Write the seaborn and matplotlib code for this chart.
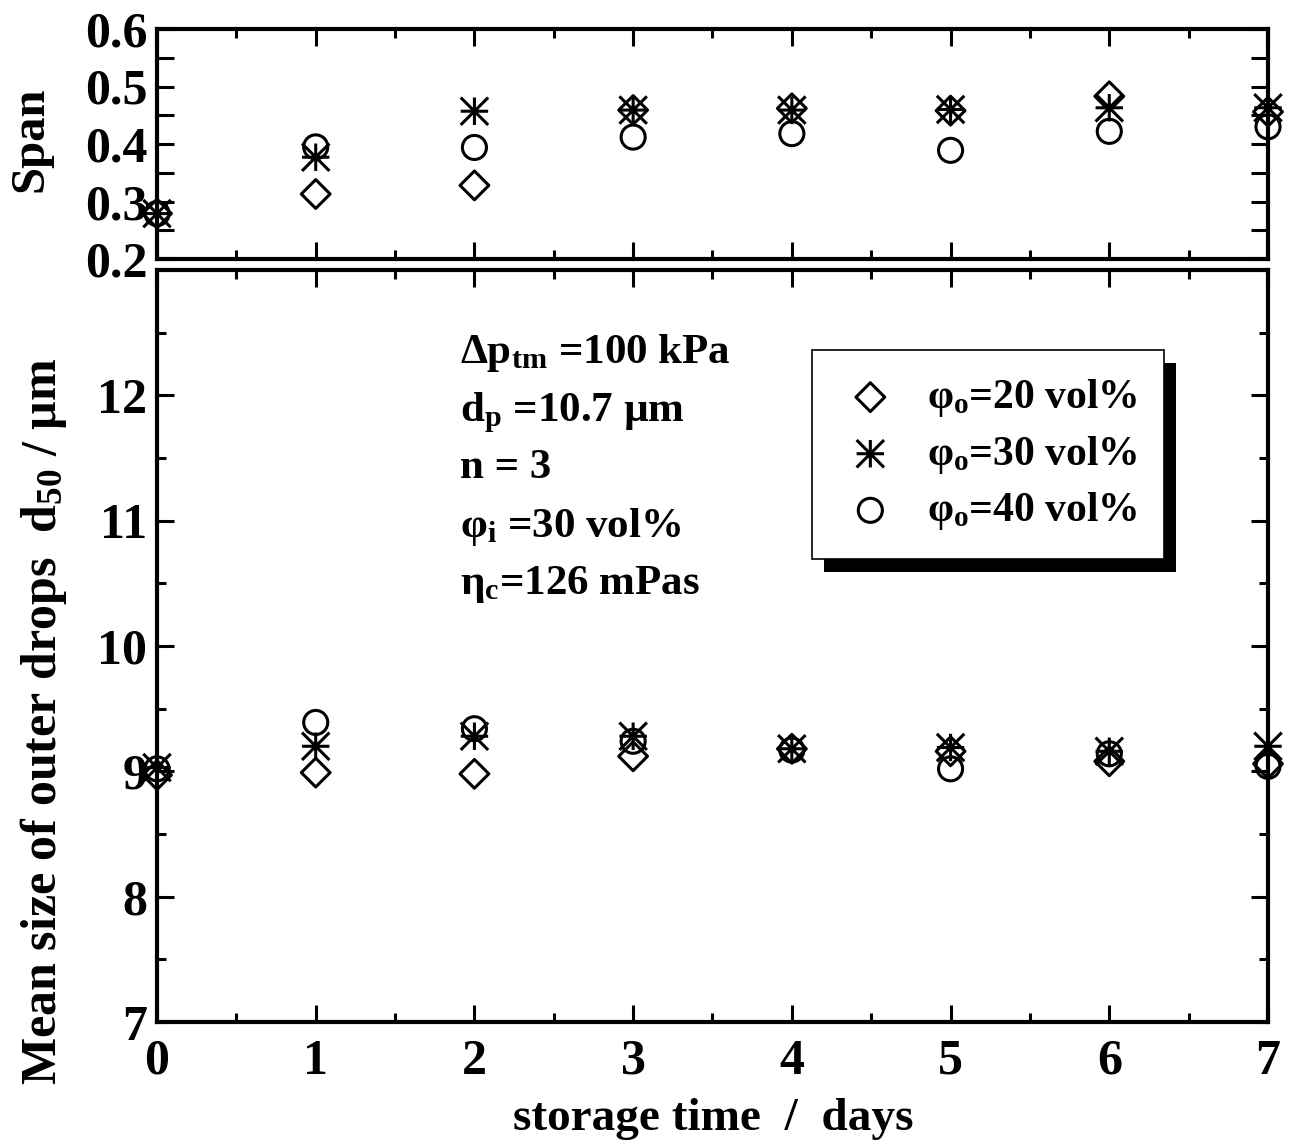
import numpy as np
import pandas as pd
import matplotlib
matplotlib.use("Agg")
import matplotlib.pyplot as plt
import seaborn as sns
from matplotlib.path import Path
from matplotlib import patheffects as pe
from matplotlib.ticker import MultipleLocator, FixedLocator

# ---------------- data ----------------
days = [0, 1, 2, 3, 4, 5, 6, 7]

span_20 = [0.279, 0.313, 0.328, 0.459, 0.462, 0.458, 0.483, 0.456]
span_30 = [0.279, 0.377, 0.457, 0.459, 0.459, 0.460, 0.463, 0.463]
span_40 = [0.279, 0.395, 0.394, 0.412, 0.418, 0.389, 0.422, 0.430]

d50_20 = [8.97, 8.99, 8.98, 9.12, 9.18, 9.16, 9.08, 9.06]
d50_30 = [9.03, 9.20, 9.28, 9.28, 9.18, 9.19, 9.16, 9.20]
d50_40 = [9.02, 9.39, 9.34, 9.24, 9.17, 9.02, 9.14, 9.04]

series_labels = [r"φ$_{\mathrm{o}}$=20 vol%", r"φ$_{\mathrm{o}}$=30 vol%", r"φ$_{\mathrm{o}}$=40 vol%"]
span_ticks = [0.2, 0.3, 0.4, 0.5, 0.6]
span_ticklabels = ["0.2", "0.3", "0.4", "0.5", "0.6"]
d50_ticks = [7, 8, 9, 10, 11, 12]
d50_ticklabels = ["7", "8", "9", "10", "11", "12"]
day_ticks = [0, 1, 2, 3, 4, 5, 6, 7]
day_ticklabels = ["0", "1", "2", "3", "4", "5", "6", "7"]

annotation_lines = [
    r"Δp$_{\mathrm{tm}}$ =100 kPa",
    r"d$_{\mathrm{p}}$ =10.7 µm",
    r"n = 3",
    r"φ$_{\mathrm{i}}$ =30 vol%",
    r"η$_{\mathrm{c}}$=126 mPas",
]

# ---------------- style ----------------
sns.set_style("ticks")
plt.rcParams["font.family"] = ["Liberation Serif", "DejaVu Serif"]
plt.rcParams["font.weight"] = "bold"
plt.rcParams["axes.labelweight"] = "bold"
plt.rcParams["text.color"] = "black"
plt.rcParams["axes.labelcolor"] = "black"
plt.rcParams["xtick.color"] = "black"
plt.rcParams["ytick.color"] = "black"
plt.rcParams["axes.edgecolor"] = "black"
plt.rcParams["mathtext.fontset"] = "custom"
plt.rcParams["mathtext.rm"] = "Liberation Serif:bold"
plt.rcParams["mathtext.it"] = "Liberation Serif:bold"
plt.rcParams["mathtext.bf"] = "Liberation Serif:bold"
plt.rcParams["mathtext.default"] = "rm"

star_path = Path(
    [(-1, 0), (1, 0), (0, -1), (0, 1), (-1, -1), (1, 1), (-1, 1), (1, -1)],
    [Path.MOVETO, Path.LINETO] * 4,
)
markers = ["D", star_path, "o"]
sizes = [215, 390, 300]

W, H = 1297, 1147
fig = plt.figure(figsize=(W / 100, H / 100), dpi=100)
ax_top = fig.add_axes([157 / W, 1 - 259 / H, 1111 / W, 230 / H])
ax_bot = fig.add_axes([157 / W, 1 - 1022 / H, 1111 / W, 752 / H])

for ax, vals, lab_on in [(ax_top, [span_20, span_30, span_40], False),
                         (ax_bot, [d50_20, d50_30, d50_40], True)]:
    for v, m, s, lab in zip(vals, markers, sizes, series_labels):
        sns.scatterplot(x=days, y=v, marker=m, s=s, facecolor="none",
                        edgecolor="black", linewidth=2.2, ax=ax, clip_on=False,
                        zorder=3, label=lab if lab_on else None, legend=False)

tick_fs = 36
for ax in (ax_top, ax_bot):
    ax.set_xlim(0, 7)
    ax.xaxis.set_major_locator(FixedLocator(day_ticks))
    ax.xaxis.set_minor_locator(MultipleLocator(0.5))
    ax.tick_params(which="both", direction="in", top=True, right=True,
                   width=2.2, labelsize=tick_fs, colors="black")
    ax.tick_params(which="major", length=12, pad=7)
    ax.tick_params(which="minor", length=6.5)
    for sp in ax.spines.values():
        sp.set_linewidth(3)
        sp.set_color("black")
    ax.set_xlabel("")
    ax.set_ylabel("")

ax_top.set_ylim(0.2, 0.6)
ax_top.set_yticks(span_ticks)
ax_top.set_yticklabels(span_ticklabels)
ax_top.yaxis.set_minor_locator(MultipleLocator(0.05))
ax_top.tick_params(axis="y", which="minor", length=12)
ax_top.tick_params(axis="x", labelbottom=False)
ax_top.set_xticks(day_ticks)
ax_top.set_ylabel("Span", fontsize=35, color="black")
ax_top.yaxis.set_label_coords(-0.094, 0.52)

ax_bot.set_ylim(7, 13)
ax_bot.set_yticks(d50_ticks)
ax_bot.set_yticklabels(d50_ticklabels)
ax_bot.yaxis.set_minor_locator(MultipleLocator(0.5))
ax_bot.set_xticks(day_ticks)
ax_bot.set_xticklabels(day_ticklabels)
ax_bot.tick_params(axis="x", which="major", pad=12)
ax_bot.set_ylabel(r"Mean size of outer drops  d$_{\mathrm{50}}$ / µm", fontsize=36, color="black")
ax_bot.yaxis.set_label_coords(-0.079, 0.40)
ax_bot.set_xlabel("storage time  /  days", fontsize=34, color="black")
ax_bot.xaxis.set_label_coords(0.5005, -0.101)

# annotation block
baselines_px = [363, 421, 478, 537, 594]
for txt, yb in zip(annotation_lines, baselines_px):
    ax_bot.text((460 - 157) / 1111, (1022 - yb) / 752, txt, transform=ax_bot.transAxes,
                fontsize=31, ha="left", va="baseline", color="black")

# legend with hard shadow
leg = ax_bot.legend(loc="upper left", bbox_to_anchor=((812 - 157) / 1111, (1022 - 350) / 752),
                    borderaxespad=0, frameon=True, fancybox=False, framealpha=1,
                    edgecolor="black", fontsize=30, scatterpoints=1,
                    handlelength=1.5, handletextpad=0.6, borderpad=0.65,
                    labelspacing=0.35)
for t in leg.get_texts():
    t.set_color("black")
frame = leg.get_frame()
frame.set_linewidth(1.2)
frame.set_path_effects([pe.SimplePatchShadow(offset=(8.7, -9.1), shadow_rgbFace="black", alpha=1.0),
                        pe.Normal()])

fig.savefig("out.png", dpi=100)
